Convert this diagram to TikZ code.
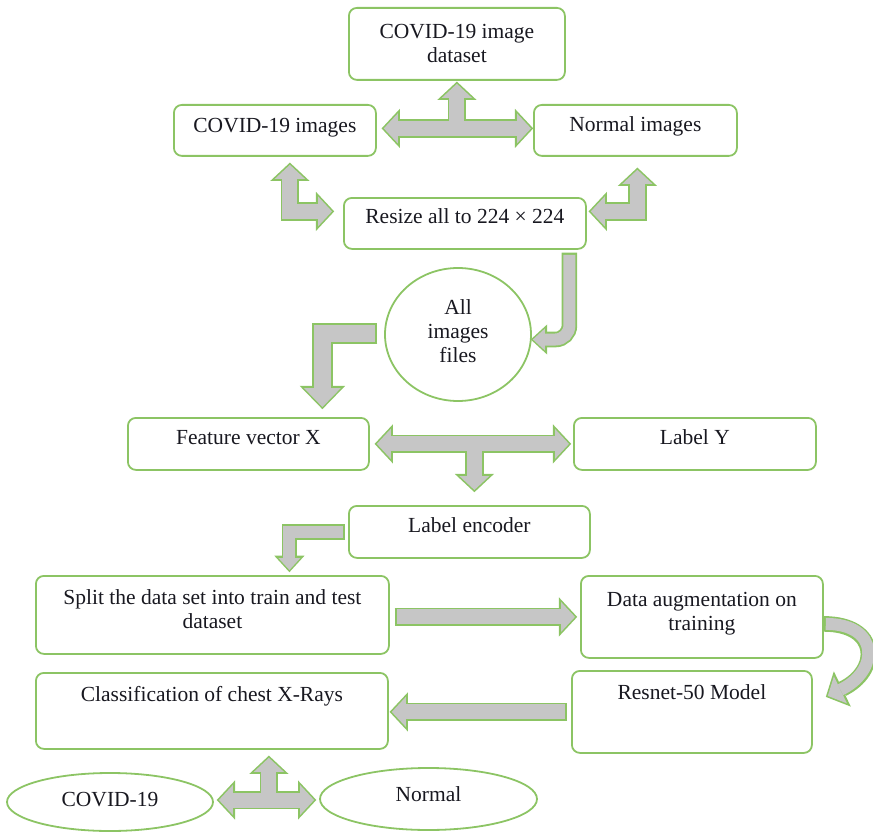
\documentclass[tikz,border=0pt]{standalone}
\usepackage{fontspec}
\setmainfont{Liberation Serif}
\usetikzlibrary{arrows.meta,calc,shapes.geometric}

\definecolor{boxgreen}{RGB}{140,196,100}
\definecolor{arrowgray}{RGB}{198,198,198}
\definecolor{inkdark}{RGB}{24,24,32}

% extra depth under a last line lifts a centred text block
\newcommand\liftby[1]{\rule[-#1]{0pt}{#1}}

\tikzset{
  every node/.style={font=\fontsize{21.5pt}{24pt}\selectfont, text=inkdark},
  stepbox/.style={draw=boxgreen, line width=1.8pt, rounded corners=8pt,
    inner sep=0pt, align=center, anchor=north west},
  roundnode/.style={draw=boxgreen, line width=1.8pt, ellipse, inner sep=0pt, align=center},
  % block arrows: a green rim layer under a gray body layer
  tipA/.tip={Triangle[width=30pt,length=14pt,line width=0pt]},
  tipAo/.tip={Triangle[width=39.2pt,length=18.3pt,line width=0pt]},
  tipB/.tip={Triangle[width=22pt,length=12pt,line width=0pt]},
  tipBo/.tip={Triangle[width=30.2pt,length=16.5pt,line width=0pt]},
  tipC/.tip={Triangle[width=37pt,length=19pt,line width=0pt]},
  tipCo/.tip={Triangle[width=45.6pt,length=23.4pt,line width=0pt]},
  rimbase/.style={draw=boxgreen, line join=miter, line cap=butt,
    shorten <=-2.2pt, shorten >=-2.2pt},
  bodybase/.style={draw=arrowgray, line join=miter, line cap=butt},
  rimA/.style={rimbase, line width=18.6pt},
  bodyA/.style={bodybase, line width=15pt},
  rimB/.style={rimbase, line width=15.6pt},
  bodyB/.style={bodybase, line width=12pt},
  rimC/.style={rimbase, line width=20.6pt},
  bodyC/.style={bodybase, line width=17pt},
}

\begin{document}
\begin{tikzpicture}[x=1pt, y=-1pt]
\useasboundingbox (0,0) rectangle (873,832);

% ---- boxes ----
\node[stepbox, minimum width=216pt, minimum height=72pt] (ds) at (348,7) {COVID-19 image\\dataset};
\node[stepbox, minimum width=202pt, text height=28pt, text depth=23pt] (ci) at (173,104) {COVID-19 images};
\node[stepbox, minimum width=203pt, text height=27pt, text depth=24pt] (ni) at (533,104) {Normal images};
\node[stepbox, minimum width=242pt, text height=26pt, text depth=25pt] (rs) at (343,197) {Resize all to 224 × 224};
\node[roundnode, minimum width=146pt, minimum height=133pt] (circ) at (458,334.5) {All\\images\\files\liftby{7pt}};
\node[stepbox, minimum width=241pt, text height=27pt, text depth=25pt] (fv) at (127,417) {Feature vector X};
\node[stepbox, minimum width=242pt, text height=27pt, text depth=25pt] (ly) at (573,417) {Label Y};
\node[stepbox, minimum width=241pt, text height=27pt, text depth=25pt] (le) at (348,505) {Label encoder};
\node[stepbox, minimum width=353pt, minimum height=78pt] (sp) at (35,575) {Split the data set into train and test\\dataset\liftby{12pt}};
\node[stepbox, minimum width=242pt, minimum height=82pt] (da) at (580,575) {Data augmentation on\\training\liftby{10.5pt}};
\node[stepbox, minimum width=240pt, text height=29pt, text depth=53pt] (rn) at (571,670) {Resnet-50 Model};
\node[stepbox, minimum width=352pt, text height=29pt, text depth=47pt] (cl) at (35,672) {Classification of chest X-Rays};
\node[roundnode, minimum width=206pt, minimum height=58pt] (cov) at (110,802) {COVID-19\liftby{6pt}};
\node[roundnode, minimum width=217pt, minimum height=62pt] (nor) at (428.5,799) {Normal\liftby{10pt}};

% ---- dataset split into the two image groups ----
\coordinate (tA) at ($(ds.south |- ci.east)+(0,-2)$);
\draw[rimA, tipAo-tipAo] ($(ci.east)+(7,-2)$) -- ($(ni.west)+(-2,-2)$);
\draw[rimA, -tipAo] (tA) -- ($(ds.south)+(0,3)$);
\draw[bodyA, tipA-tipA] ($(ci.east)+(7,-2)$) -- ($(ni.west)+(-2,-2)$);
\draw[bodyA, -tipA] (tA) -- ($(ds.south)+(0,3)$);

% ---- image groups <-> resize ----
\draw[rimA, tipAo-tipAo] ($(ci.south)+(15,8)$) |- ($(rs.west)+(-11,-12)$);
\draw[bodyA, tipA-tipA] ($(ci.south)+(15,8)$) |- ($(rs.west)+(-11,-12)$);
\draw[rimA, tipAo-tipAo] ($(ni.south)+(2,13)$) |- ($(rs.east)+(4,-12)$);
\draw[bodyA, tipA-tipA] ($(ni.south)+(2,13)$) |- ($(rs.east)+(4,-12)$);

% ---- resize -> all image files ----
\draw[rimB, -tipBo, rounded corners=14pt] ($(rs.south)+(104.5,5)$) |- ($(circ.east)+(1,5)$);
\draw[bodyB, -tipB, rounded corners=14pt] ($(rs.south)+(104.5,5)$) |- ($(circ.east)+(1,5)$);

% ---- all image files -> feature vector ----
\draw[rimC, -tipCo] ($(circ.west)+(-9,-1)$) -| ($(fv.north)+(74,-10)$);
\draw[bodyC, -tipC] ($(circ.west)+(-9,-1)$) -| ($(fv.north)+(74,-10)$);

% ---- feature vector / label -> label encoder ----
\coordinate (tB) at ($(le.north |- fv.east)+(5,0)$);
\draw[rimA, tipAo-tipAo] ($(fv.east)+(7,0)$) -- ($(ly.west)+(-4,0)$);
\draw[rimA, -tipAo] (tB) -- ($(le.north)+(5,-15)$);
\draw[bodyA, tipA-tipA] ($(fv.east)+(7,0)$) -- ($(ly.west)+(-4,0)$);
\draw[bodyA, -tipA] (tB) -- ($(le.north)+(5,-15)$);

% ---- label encoder -> split ----
\draw[rimB, -tipBo] ($(le.west)+(-5,0)$) -| ($(sp.north)+(77,-5)$);
\draw[bodyB, -tipB] ($(le.west)+(-5,0)$) -| ($(sp.north)+(77,-5)$);

% ---- split -> augmentation ----
\draw[rimA, -tipAo] ($(sp.east)+(7,2)$) -- ($(da.west)+(-5,0)$);
\draw[bodyA, -tipA] ($(sp.east)+(7,2)$) -- ($(da.west)+(-5,0)$);

% ---- augmentation -> resnet (curved) ----
\draw[rimA, line width=15.6pt, -tipAo] ($(da.east)+(2,7)$) .. controls +(54,0) and +(52,-25) .. ($(rn.east)+(15,-16)$);
\draw[bodyA, line width=12pt, -tipA] ($(da.east)+(2,7)$) .. controls +(54,0) and +(52,-25) .. ($(rn.east)+(15,-16)$);

% ---- resnet -> classification ----
\draw[rimA, -tipAo] ($(rn.west)+(-6,0)$) -- ($(cl.east)+(3,1)$);
\draw[bodyA, -tipA] ($(rn.west)+(-6,0)$) -- ($(cl.east)+(3,1)$);

% ---- classification -> outcomes ----
\coordinate (tC) at ($(cl.south)+(57,52)$);
\draw[rimA, tipAo-tipAo] ($(cov.east)+(5,-2)$) -- ($(nor.west)+(-5,1)$);
\draw[rimA, -tipAo] (tC) -- ($(cl.south)+(57,8)$);
\draw[bodyA, tipA-tipA] ($(cov.east)+(5,-2)$) -- ($(nor.west)+(-5,1)$);
\draw[bodyA, -tipA] (tC) -- ($(cl.south)+(57,8)$);
\end{tikzpicture}
\end{document}
